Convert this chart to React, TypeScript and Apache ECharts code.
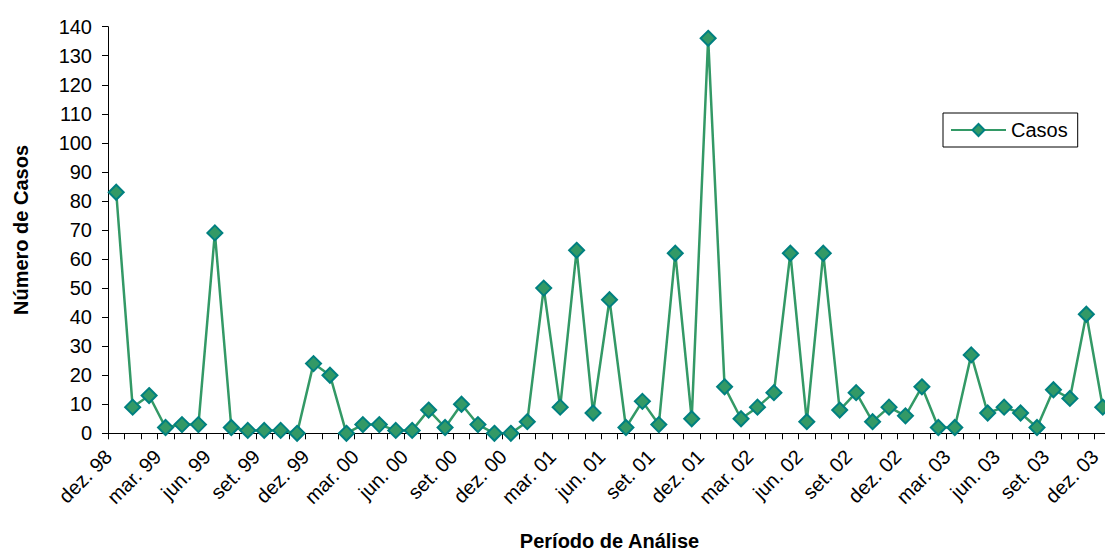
import React, { useEffect, useRef } from "react";
import * as echarts from "echarts";

const months = ["jan.", "fev.", "mar.", "abr.", "mai.", "jun.", "jul.", "ago.", "set.", "out.", "nov.", "dez."];

// dez. 98 .. dez. 03 (61 months)
const categories: string[] = [];
for (let i = 0; i < 61; i++) {
  const m = (11 + i) % 12;
  const y = 98 + Math.floor((11 + i) / 12);
  const yy = String(y % 100).padStart(2, "0");
  categories.push(`${months[m]} ${yy}`);
}

const casos = [
  83, 9, 13, 2, 3, 3, 69, 2, 1, 1, 1, 0, 24, 20, 0, 3,
  3, 1, 1, 8, 2, 10, 3, 0, 0, 4, 50, 9, 63, 7, 46, 2,
  11, 3, 62, 5, 136, 16, 5, 9, 14, 62, 4, 62, 8, 14, 4,
  9, 6, 16, 2, 2, 27, 7, 9, 7, 2, 15, 12, 41, 9,
];

const seriesName = "Casos";
const xTitle = "Período de Análise";
const yTitle = "Número de Casos";

const FONT = "'Liberation Sans', Arial, sans-serif";

export default function App() {
  const ref = useRef<HTMLDivElement>(null);
  useEffect(() => {
    if (!ref.current) return;
    const chart = echarts.init(ref.current, null, { renderer: "svg" });
    chart.setOption({
      animation: false,
      backgroundColor: "#ffffff",
      textStyle: { fontFamily: FONT },
      grid: {
        left: 108,
        right: 0,
        top: 26.7,
        bottom: 118.7,
        containLabel: false,
        outerBoundsMode: "none",
      },
      legend: {
        data: [seriesName],
        left: 943,
        top: 113,
        orient: "vertical",
        borderColor: "#000",
        borderWidth: 1,
        backgroundColor: "#fff",
        padding: [7, 10, 7, 7],
        itemWidth: 55,
        itemHeight: 15,
        textStyle: { fontSize: 20, color: "#000", fontFamily: FONT },
      },
      xAxis: {
        type: "category",
        data: categories,
        boundaryGap: true,
        name: xTitle,
        nameLocation: "middle",
        nameGap: 98,
        nameTextStyle: { fontSize: 20, fontWeight: "bold", color: "#000", fontFamily: FONT },
        axisLine: { lineStyle: { color: "#000", width: 1 } },
        axisTick: { show: true, interval: 0, length: 6, lineStyle: { color: "#000" } },
        axisLabel: {
          interval: 2,
          rotate: 45,
          margin: 12,
          padding: [0, 11, 0, 0],
          fontSize: 20,
          color: "#000",
          fontFamily: FONT,
        },
        splitLine: { show: false },
      },
      yAxis: {
        type: "value",
        min: 0,
        max: 140,
        interval: 10,
        name: yTitle,
        nameLocation: "middle",
        nameGap: 77,
        nameTextStyle: { fontSize: 20, fontWeight: "bold", color: "#000", fontFamily: FONT },
        axisLine: { show: true, lineStyle: { color: "#000", width: 1 } },
        axisTick: { show: true, length: 6, lineStyle: { color: "#000" } },
        axisLabel: { fontSize: 20, color: "#000", margin: 16, fontFamily: FONT },
        splitLine: { show: false },
      },
      series: [
        {
          name: seriesName,
          type: "line",
          data: casos,
          symbol: "diamond",
          symbolSize: 15,
          showSymbol: true,
          showAllSymbol: true,
          lineStyle: { color: "#339966", width: 2.5 },
          itemStyle: { color: "#339966", borderColor: "#008080", borderWidth: 2 },
        },
      ],
    });
    return () => chart.dispose();
  }, []);
  return (
    <div style={{ position: "absolute", left: 0, top: 0, width: 1105, height: 552, overflow: "hidden" }}>
      <div ref={ref} style={{ width: 1111, height: 552 }} />
    </div>
  );
}
